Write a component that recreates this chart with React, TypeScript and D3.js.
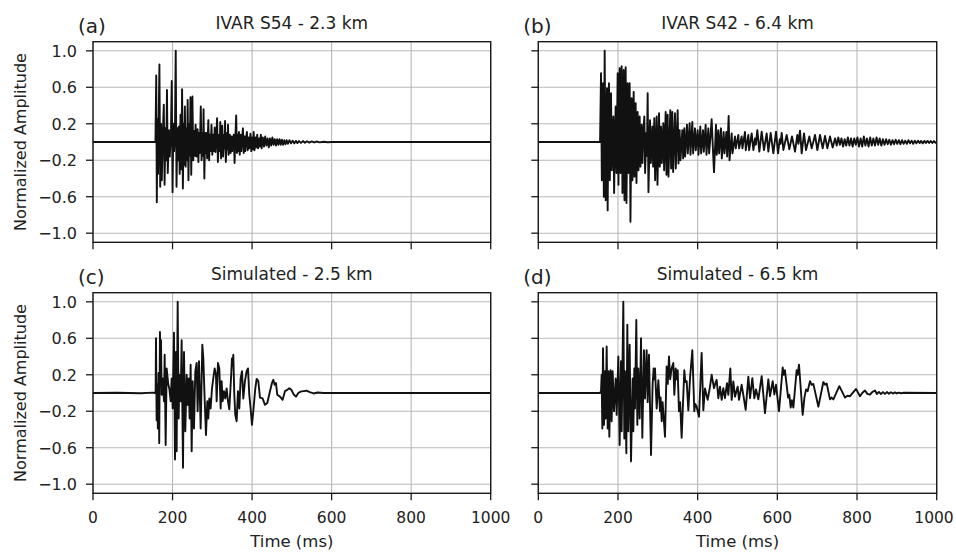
import React from 'react';
import * as d3 from 'd3';

// [time (ms), normalized amplitude]
const traceS54: [number, number][] = [
  [0, 0], [157, 0],
  [159, 0.73], [160.5, -0.66], [162, 0.25], [163.5, -0.35], [167, 0.85], [169, -0.49], [171, 0.2], [173, -0.42],
  [176, 0.15], [178, 0.41], [180, -0.47], [182, 0.15], [184, -0.2], [186, 0.57], [188, -0.34], [191, 0.13],
  [193, -0.16], [196, 0.1], [198, 0.67], [200, -0.55], [202, 0.2], [204, -0.1], [206, 0.1], [208, 1.0],
  [210, -0.49], [212, 0.15], [214, -0.2], [216, 0.17], [218, -0.35], [220, 0.3], [222, -0.3], [224, 0.58],
  [226, -0.51], [228, 0.2], [229.5, -0.25], [231, 0.39], [233, -0.27], [235, 0.15], [236.5, -0.2], [238, 0.46],
  [240, -0.42], [242, 0.2], [243.5, -0.15], [245, 0.49], [247, -0.36], [250, 0.5], [252, -0.2], [254, 0.12],
  [256, -0.15], [258, 0.19], [260, -0.16], [263, 0.14], [265, -0.22], [267, 0.1], [268.5, -0.12], [271, 0.39],
  [273, -0.2], [275, 0.1], [276.5, -0.15], [278, 0.36], [280, -0.4], [282, 0.1], [283.5, -0.12], [285, 0.1],
  [287, -0.18], [290, 0.24], [292, -0.2], [294, 0.08], [295.5, -0.1], [298, 0.19], [300, -0.14], [303, 0.08],
  [304.5, -0.1], [306, 0.16], [308, -0.11], [310, 0.05], [312, 0.26], [314, -0.22], [317, 0.08], [318.5, -0.1],
  [320, 0.22], [322, -0.18], [325, 0.18], [327, -0.16], [330, 0.08], [331, -0.07], [332, 0.23], [334, -0.22],
  [337, 0.1], [338.5, -0.08], [339.5, 0.19], [341, -0.14], [344, 0.08], [346, -0.12], [348, 0.06], [350, -0.1],
  [352, 0.05], [354, 0.08], [356, -0.23], [358, 0.05], [360, 0.29], [362, -0.12], [364, 0.08], [365.5, -0.1],
  [367, 0.11], [369, -0.14], [371, 0.08], [373, -0.1], [375, 0.05], [377, 0.15], [379, -0.12], [381, 0.06],
  [383, -0.1], [385, 0.05], [387, 0.11], [389, -0.09], [391, 0.05], [393, -0.07], [396, 0.09], [398, -0.1],
  [400, 0.05], [402, -0.08], [404, 0.11], [406, -0.09], [408, 0.05], [410, -0.06], [413, 0.08], [415, -0.07],
  [418, 0.04], [420, -0.05], [422, 0.08], [424, -0.07], [427, 0.05], [430, -0.05], [433, 0.06], [436, -0.04],
  [439, 0.04], [442, -0.06], [445, 0.04], [448, -0.04], [451, 0.05], [454, -0.03], [457, 0.03], [460, -0.04],
  [463, 0.03], [466, -0.03], [469, 0.03], [472, -0.03], [475, 0.025], [478, -0.03], [481, 0.02], [484, -0.025],
  [487, 0.02], [490, -0.02], [494, 0.02], [498, -0.015], [502, 0.015], [506, -0.015], [510, 0.012], [514, -0.012],
  [518, 0.01], [523, -0.01], [528, 0.01], [533, -0.008], [538, 0.008], [544, -0.006], [550, 0.006], [556, -0.005],
  [562, 0.005], [570, -0.004], [580, 0.003], [590, -0.002], [600, 0], [1000, 0],
];

const traceS42: [number, number][] = [
  [0, 0], [155, 0],
  [157.4, 0.755], [159.5, -0.42], [161, 0.2], [162.4, 0.645], [164.5, -0.6], [166.6, 1.0], [169.1, -0.64],
  [170.5, 0.1], [172.4, 0.59], [174.1, -0.75], [175.8, 0.2], [177.4, 0.645], [179.5, -0.42], [182.5, 0.535],
  [184.5, -0.31], [186.5, 0.1], [188.3, 0.28], [190.3, -0.56], [192.5, 0.1], [194.2, 0.39], [196.2, -0.34],
  [199.2, 0.755], [201.2, -0.47], [204.2, 0.81], [206.2, -0.34], [209.2, 0.83], [211.2, -0.56], [214.3, 0.79],
  [216.3, -0.64], [219.3, 0.82], [221.3, -0.67], [224.3, 0.645], [226.3, -0.34], [229.3, 0.645], [231.3, -0.875],
  [234.3, 0.48], [236.3, -0.42], [239.4, 0.55], [241.4, -0.38], [244.4, 0.425], [246.4, -0.45], [249.4, 0.33],
  [251.4, -0.31], [254.4, 0.28], [256.4, -0.27], [259.4, 0.19], [261.4, -0.23], [263.5, 0.1], [266.1, 0.28],
  [268.1, -0.34], [271, 0.1], [272.5, -0.15], [274.5, 0.535], [276.5, -0.55], [280.4, 0.24], [282.4, -0.23],
  [286.2, 0.17], [288.2, -0.27], [291.2, 0.26], [293.2, -0.42], [297.1, 0.28], [299.1, -0.47], [303, 0.315],
  [305, -0.27], [308, 0.17], [310, -0.23], [313.8, 0.205], [315.8, -0.31], [319.7, 0.33], [321.7, -0.36],
  [324.7, 0.3], [326.7, -0.38], [331.4, 0.35], [333.4, -0.29], [336.4, 0.33], [338.4, -0.33], [343.1, 0.315],
  [345.1, -0.29], [349.8, 0.35], [351.8, -0.235], [354.8, 0.13], [356.8, -0.2], [361.5, 0.13], [363.5, -0.18],
  [366.5, 0.15], [368.5, -0.16], [373.2, 0.19], [375.2, -0.125], [379.9, 0.205], [381.9, -0.14], [386.6, 0.22],
  [388.6, -0.125], [393.3, 0.15], [395.3, -0.09], [400, 0.13], [402, -0.14], [406.7, 0.17], [408.7, -0.125],
  [413.4, 0.13], [415.4, -0.107], [420.1, 0.19], [422.1, -0.14], [426.8, 0.15], [428.8, -0.125], [432, 0.05],
  [435.1, 0.25], [438, -0.05], [441, -0.33], [446, 0.19], [448, -0.14], [451.9, 0.13], [453.9, -0.125],
  [458.6, 0.15], [460.6, -0.18], [465.3, 0.11], [467.3, -0.125], [472, 0.11], [474, -0.16], [477.8, 0.285],
  [480, -0.2], [485.4, 0.095], [487.4, -0.125], [493.7, 0.06], [495.7, -0.07], [502.1, 0.077], [504.1, -0.07],
  [510.4, 0.06], [512.4, -0.07], [518.8, 0.11], [520.8, -0.09], [527.2, 0.077], [529.2, -0.09], [535.6, 0.095],
  [539.8, -0.088], [544, 0.04], [546, -0.03], [549.8, 0.13], [554.8, -0.106], [560.7, 0.114], [566.5, -0.088],
  [573.2, 0.095], [577.4, -0.106], [583.3, 0.1], [590, -0.125], [596.7, 0.114], [601.7, -0.125], [606, 0.03],
  [608, -0.02], [610.9, 0.1], [615.1, -0.088], [623.4, 0.077], [630.1, -0.08], [636.8, 0.06], [644.4, -0.106],
  [650.2, 0.077], [653, -0.02], [656.9, 0.125], [661.1, -0.125], [667, 0.095], [672, -0.088], [680.3, 0.06],
  [686.2, -0.07], [694.6, 0.077], [700.4, -0.088], [707.1, 0.077], [713.8, -0.07], [719.7, 0.066], [725.5, -0.07],
  [732.2, 0.06], [738.9, -0.06], [745, 0.04], [749, -0.04], [753, 0.05], [757, -0.03], [761, 0.04], [765, -0.05],
  [769, 0.03], [773, -0.04], [777, 0.05], [781, -0.04], [785, 0.04], [789, -0.05], [793, 0.04], [797, -0.03],
  [801, 0.05], [805, -0.05], [809, 0.04], [813, -0.05], [817, 0.06], [821, -0.04], [825, 0.04], [829, -0.05],
  [833, 0.05], [837, -0.04], [841, 0.04], [845, -0.04], [849, 0.05], [853, -0.03], [857, 0.04], [861, -0.04],
  [865, 0.03], [869, -0.03], [873, 0.03], [877, -0.025], [881, 0.025], [885, -0.03], [889, 0.02], [893, -0.025],
  [897, 0.025], [901, -0.02], [905, 0.02], [909, -0.025], [913, 0.02], [917, -0.02], [921, 0.015], [925, -0.02],
  [929, 0.02], [933, -0.015], [937, 0.015], [941, -0.02], [945, 0.015], [949, -0.015], [953, 0.015], [957, -0.012],
  [961, 0.012], [965, -0.015], [969, 0.012], [973, -0.01], [977, 0.012], [981, -0.01], [985, 0.01], [989, -0.01],
  [993, 0.01], [997, -0.008], [1000, 0],
];

const simNear: [number, number][] = [
  [0, 0], [60, 0.003], [120, -0.003], [150, 0.004], [156, 0], [157.5, 0.02],
  [158.4, 0.6], [160, -0.3], [161.5, 0.1], [163, -0.39], [165, 0.22], [166, 0.0], [166.5, -0.55], [168.4, 0.67],
  [170, 0.1], [171, 0.58], [172.6, -0.02], [175.1, 0.16], [178.5, -0.09], [180.2, 0.42], [182.7, -0.57],
  [185.2, 0.27], [189.4, 0.09], [191.9, 0.05], [195.3, -0.09], [197.8, 0.16], [200.3, -0.17], [203.6, 0.66],
  [206.2, -0.73], [208.7, 0.45], [210.3, -0.64], [212.9, 1.0], [215.4, -0.28], [217, 0.2], [220.4, -0.09],
  [222.9, 0.58], [226.3, -0.82], [228.8, 0.45], [232.1, -0.42], [235.5, 0.2], [238, -0.13], [240.5, 0.16],
  [243, -0.28], [245.5, 0.31], [248.1, -0.64], [250.6, 0.13], [253.9, -0.39], [257.3, 0.24], [260.6, 0.33],
  [263.1, -0.2], [266.5, 0.35], [270.7, -0.39], [274.9, 0.53], [277.4, 0.38], [280.7, -0.06], [284.1, -0.46],
  [287.4, -0.09], [289.9, -0.28], [292.5, -0.06], [295.8, -0.17], [299.2, 0.05], [302.5, 0.16], [305.9, 0.27],
  [309.2, 0.2], [310.9, -0.09], [314.2, 0.33], [317.6, 0.27], [321, -0.17], [323.5, 0.13], [326, -0.09],
  [329.3, 0.02], [332.6, -0.06], [336, 0.05], [339.4, -0.09], [342.7, -0.18], [347.5, 0.2], [349.4, 0.38],
  [351, 0.3], [352.8, 0.42], [355.3, -0.02], [357.8, -0.24], [361.2, -0.31], [364.5, 0.02], [367.9, -0.17],
  [371.2, 0.16], [374.6, 0.24], [377.9, -0.06], [382.1, 0.13], [386.3, 0.24], [389.7, 0.27], [393, -0.02],
  [396.4, -0.17], [399.7, -0.35], [403.1, -0.2], [408.1, 0.05], [411.5, 0.155], [415.7, 0.13], [419.8, -0.05],
  [426.5, -0.06], [432.4, -0.13], [438.3, -0.11], [445, 0.02], [450, 0.11], [453.4, 0.145], [456.7, 0.09],
  [460, 0.11], [463.4, -0.02], [470.1, -0.04], [476.8, -0.075], [482.7, 0.02], [488.6, 0.035], [493.6, 0.053],
  [498.6, 0.035], [505.3, -0.02], [510.4, -0.04], [516.2, 0.0], [522, 0.015], [529, 0.02], [537, 0.025],
  [545, 0.01], [555, -0.005], [565, 0.005], [580, 0], [1000, 0],
];

const simFar: [number, number][] = [
  [0, 0], [155, 0], [157.4, 0.02],
  [159, 0.2], [160.7, -0.39], [162.4, 0.49], [164.9, -0.35], [167.4, 0.24], [169.1, -0.28], [171.6, 0.51],
  [174.1, -0.39], [176.5, 0.24], [178.3, -0.48], [181.6, 0.25], [184.1, -0.31], [186.6, 0.24], [190, -0.2],
  [194.2, 0.16], [196.7, -0.24], [200.9, 0.4], [204.2, -0.57], [207.6, 0.35], [209.2, -0.42], [213.4, 1.0],
  [215.9, -0.5], [217.5, 0.24], [221, -0.66], [223.5, 0.75], [226, -0.42], [229.3, 0.53], [232.7, -0.75],
  [236.8, 0.16], [238.5, -0.42], [241, 0.27], [242.7, -0.17], [246, 0.8], [248.6, -0.35], [251, 0.27],
  [254.4, -0.28], [257.8, 0.6], [261.1, -0.49], [265.3, 0.47], [267.8, -0.06], [272, 0.47], [274.5, -0.1],
  [277.8, 0.42], [282.9, -0.68], [287, 0.1], [289.6, 0.27], [291, 0.15], [292.9, 0.27], [297.1, -0.17],
  [301.3, 0.14], [305.5, -0.2], [307, -0.05], [309.7, -0.31], [312, -0.1], [318, -0.48], [322.2, 0.29],
  [325, 0.1], [328, 0.4], [331, 0.15], [334.7, 0.27], [338.9, 0.33], [341.4, -0.02], [344.8, 0.27], [347, 0.15],
  [349.8, 0.25], [353.1, -0.2], [356, -0.1], [359.8, -0.49], [366.5, 0.25], [369, 0.12], [372.4, 0.13],
  [376.6, -0.19], [380.8, 0.16], [386.6, 0.47], [391.6, -0.2], [394, -0.12], [397.5, -0.15], [403.4, -0.26],
  [410, 0.44], [414.2, -0.19], [418.4, 0.05], [425.1, -0.075], [431, 0.07], [435.1, 0.2], [441, 0.053],
  [444, 0.1], [447.7, 0.144], [451.9, -0.057], [456.1, 0.07], [460.3, -0.075], [464.4, 0.053], [468.6, -0.057],
  [473.6, 0.108], [477, -0.02], [482, 0.27], [485.4, -0.075], [489.5, 0.127], [493.7, -0.04], [500.4, 0.07],
  [503.8, -0.075], [510.4, 0.09], [514.6, -0.02], [520.5, -0.185], [527.2, 0.18], [531.4, -0.057],
  [537.2, 0.163], [542.2, -0.057], [546.5, 0.04], [552.3, -0.07], [560.7, 0.185], [569, -0.22], [577.4, 0.15],
  [581.6, -0.035], [588.3, 0.13], [592.5, -0.016], [596.7, 0.09], [604.2, -0.2], [613.4, 0.28], [616, 0.2],
  [619, 0.25], [627, -0.05], [630, -0.02], [633.5, -0.16], [636.5, -0.08], [640.2, -0.16], [648.5, 0.25],
  [651, 0.2], [654.4, 0.31], [663.6, -0.24], [668, -0.05], [672, 0.04], [676, 0.02], [682, 0.13], [686, 0.09],
  [690.4, 0.1], [703, -0.15], [715.5, 0.12], [720, 0.09], [723.8, 0.105], [732.2, -0.07], [736, -0.05],
  [740.6, -0.07], [755.6, 0.075], [769.9, -0.05], [776, -0.03], [782.4, -0.035], [797.5, 0.045],
  [807.5, -0.035], [813, 0.0], [820, 0.027], [826, -0.01], [832.6, -0.018], [838, 0.01], [845.2, 0.027],
  [850, -0.01], [855, 0.012], [860, -0.012], [865, 0.01], [870, -0.01], [875, 0.01], [880, -0.008],
  [885, 0.008], [890, -0.006], [895, 0.006], [900, -0.005], [905, 0.004], [910, -0.003], [916, 0.002],
  [1000, 0],
];

const titles = ['IVAR S54 - 2.3 km', 'IVAR S42 - 6.4 km', 'Simulated - 2.5 km', 'Simulated - 6.5 km'];
const letters = ['(a)', '(b)', '(c)', '(d)'];
const traces = [traceS54, traceS42, simNear, simFar];
const xTicks = [0, 200, 400, 600, 800, 1000];
const yTicks = [-1.0, -0.6, -0.2, 0.2, 0.6, 1.0];

const W = 956;
const H = 552;
const cols = [[93, 490.7], [538.3, 936.7]];
const rows = [[41.7, 242.3], [292.7, 493.3]];
const font = '"DejaVu Sans", sans-serif';
const ink = '#1a1a1a';

const fmt = (v: number) => (v < 0 ? '\u2212' : '') + Math.abs(v).toFixed(1);

function Panel({ i }: { i: number }) {
  const col = i % 2;
  const row = Math.floor(i / 2);
  const [x0, x1] = cols[col];
  const [y0, y1] = rows[row];
  const x = d3.scaleLinear().domain([0, 1000]).range([x0, x1]);
  const y = d3.scaleLinear().domain([-1.1, 1.1]).range([y1, y0]);
  const line = d3.line<[number, number]>().x(d => x(d[0])).y(d => y(d[1]));

  return (
    <g>
      {/* grid */}
      {xTicks.map(t => (
        <line key={'gx' + t} x1={x(t)} x2={x(t)} y1={y0} y2={y1} stroke="#b8b8b8" strokeWidth={1.1} />
      ))}
      {yTicks.map(t => (
        <line key={'gy' + t} x1={x0} x2={x1} y1={y(t)} y2={y(t)} stroke="#b8b8b8" strokeWidth={1.1} />
      ))}
      <path d={line(traces[i]) ?? ''} fill="none" stroke="#111" strokeWidth={1.9} strokeLinejoin="round" />
      {/* spines */}
      <rect x={x0} y={y0} width={x1 - x0} height={y1 - y0} fill="none" stroke={ink} strokeWidth={1.4} />
      {/* ticks */}
      {xTicks.map(t => (
        <line key={'tx' + t} x1={x(t)} x2={x(t)} y1={y1} y2={y1 + 7} stroke={ink} strokeWidth={1.3} />
      ))}
      {yTicks.map(t => (
        <line key={'ty' + t} x1={x0 - 7} x2={x0} y1={y(t)} y2={y(t)} stroke={ink} strokeWidth={1.3} />
      ))}
      {row === 1 &&
        xTicks.map(t => (
          <text
            key={'lx' + t}
            x={Math.min(x(t), W - 22)}
            y={y1 + 29.5}
            textAnchor="middle"
            fontSize={15.5}
            fill="#222"
            fontFamily={font}
          >
            {t}
          </text>
        ))}
      {row === 1 && (
        <text x={(x0 + x1) / 2} y={547} textAnchor="middle" fontSize={16.5} fill="#222" fontFamily={font}>
          Time (ms)
        </text>
      )}
      {col === 0 &&
        yTicks.map(t => (
          <text key={'ly' + t} x={x0 - 16} y={y(t) + 6} textAnchor="end" fontSize={16} fill="#222" fontFamily={font}>
            {fmt(t)}
          </text>
        ))}
      {col === 0 && (
        <text
          transform={`translate(26,${(y0 + y1) / 2}) rotate(-90)`}
          textAnchor="middle"
          fontSize={16}
          fill="#222"
          fontFamily={font}
        >
          Normalized Amplitude
        </text>
      )}
      <text x={(x0 + x1) / 2} y={y0 - 12.4} textAnchor="middle" fontSize={17} fill="#222" fontFamily={font}>
        {titles[i]}
      </text>
      <text x={x0 - 15} y={y0 - 8.5} fontSize={20} fill="#222" fontFamily={font}>
        {letters[i]}
      </text>
    </g>
  );
}

export default function App() {
  return (
    <div style={{ position: 'absolute', left: 0, top: 0, width: W, height: H, background: '#fff' }}>
      <svg width={W} height={H} viewBox={`0 0 ${W} ${H}`}>
        <rect width={W} height={H} fill="#fff" />
        {[0, 1, 2, 3].map(i => (
          <Panel key={i} i={i} />
        ))}
      </svg>
    </div>
  );
}
